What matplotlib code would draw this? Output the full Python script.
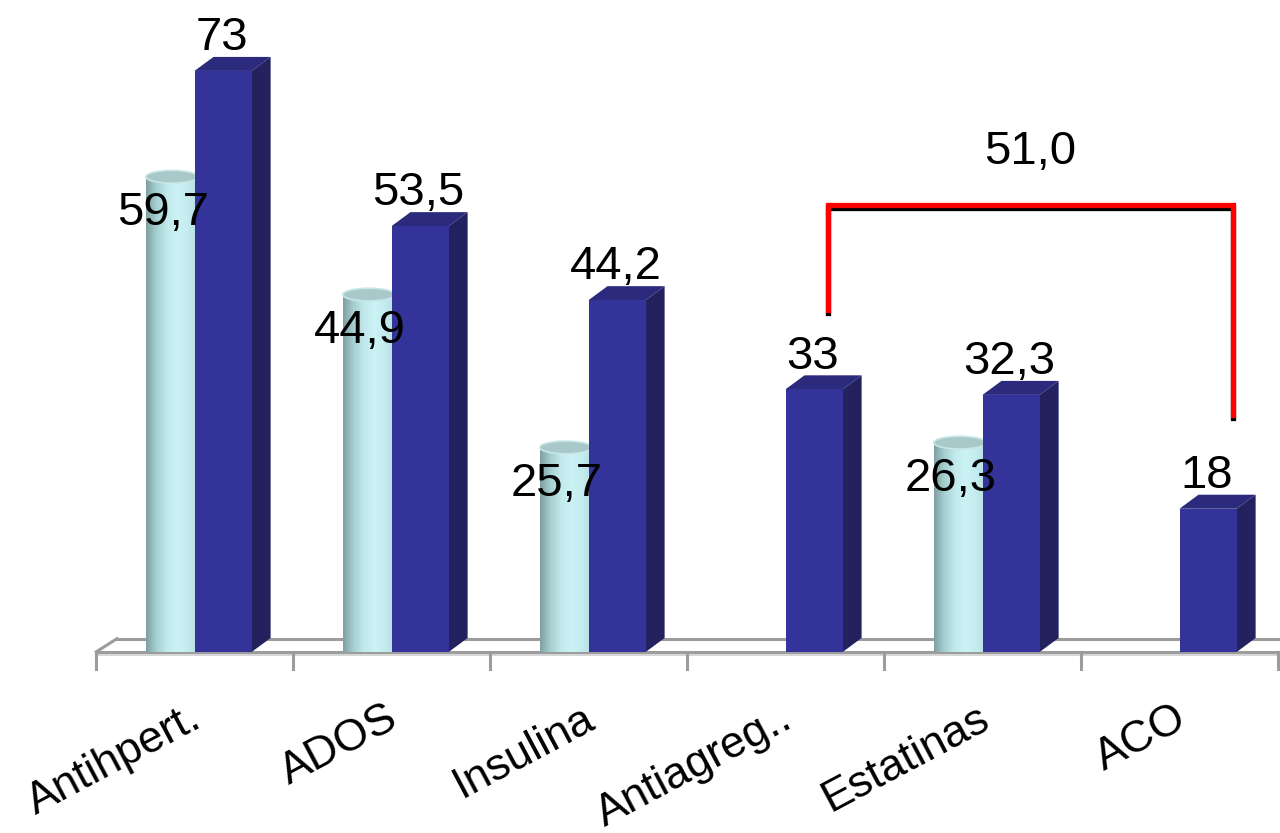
import matplotlib

matplotlib.use("Agg")
import matplotlib.pyplot as plt
import matplotlib.patheffects as pe
import numpy as np
from matplotlib.colors import LinearSegmentedColormap
from matplotlib.patches import Ellipse, Polygon, Rectangle

plt.rcParams["font.family"] = ["Liberation Sans", "DejaVu Sans"]

categories = ["Antihpert.", "ADOS", "Insulina", "Antiagreg..", "Estatinas", "ACO"]
serie_a = [59.7, 44.9, 25.7, None, 26.3, None]   # light cylinders
serie_b = [73.0, 53.5, 44.2, 33.0, 32.3, 18.0]   # dark blue boxes

# bracket between Antiagreg.. and ACO, labelled with their sum
bracket_pair = (3, 5)


def fmt(v, keep_zero=False):
    s = f"{v:.1f}".replace(".", ",")
    return s[:-2] if (s.endswith(",0") and not keep_zero) else s


W, H = 1280, 833
fig = plt.figure(figsize=(W / 100, H / 100), dpi=100)

# axes sized so that one category slot is 197 px and one unit is ~7.96 px
ax = fig.add_axes([0, 1 - 652 / H, 1, 652 / H])
px_x = 197.0
px_y = 7.96
x0 = -0.5 - 96 / px_x
ax.set_xlim(x0, x0 + W / px_x)
ax.set_ylim(0, 652 / px_y)
ax.set_axis_off()

# depth offset used for the 3d look
ddx, ddy = 19 / px_x, 14 / px_y
n = len(categories)

# floor
floor_c = "#9c9c9c"
ax.plot([-0.5, n + 0.5], [0, 0], color=floor_c, lw=2.2, zorder=1, clip_on=False)
ax.plot([-0.5, n + 0.5], [-0.35, -0.35], color="#d6d6d6", lw=1.5, zorder=1, clip_on=False)
ax.plot([-0.5 + ddx * 1.1, n + 0.5], [ddy * 0.95, ddy * 0.95], color=floor_c, lw=2.2,
        zorder=0.5, clip_on=False)
ax.plot([-0.5, -0.5 + ddx * 1.1], [0, ddy * 0.95], color=floor_c, lw=2.2, zorder=1)
for k in range(n + 1):
    ax.plot([k - 0.5, k - 0.5], [0, -2.1], color=floor_c, lw=2.2, zorder=1, clip_on=False)

# cylinders
cyl_cmap = LinearSegmentedColormap.from_list(
    "cyl", ["#7f9fa1", "#a6cfd2", "#c2eaed", "#cbf2f4", "#c4ecef", "#b3dde0"])
grad = np.linspace(0, 1, 256).reshape(1, -1)
r = 0.132
ry = 0.8
for i, v in enumerate(serie_a):
    if v is None:
        continue
    xc = i - 0.115
    body = Rectangle((xc - r, 0), 2 * r, v, transform=ax.transData)
    im = ax.imshow(grad, cmap=cyl_cmap, aspect="auto", extent=(xc - r, xc + r, 0, v),
                   zorder=2, interpolation="bilinear")
    im.set_clip_path(body)
    ax.add_patch(Ellipse((xc, v), 2 * r, 2 * ry, facecolor="#a9c8c9",
                         edgecolor="#c9e6e7", lw=1.2, zorder=2.1))

# blue boxes
front_c, side_c, top_c = "#343399", "#23225f", "#2b2a7c"
w = 0.29
for i, v in enumerate(serie_b):
    xl, xr = i, i + w
    ax.add_patch(Polygon([(xr, 0), (xr + ddx, ddy), (xr + ddx, v + ddy), (xr, v)],
                         closed=True, facecolor=side_c, edgecolor="none", zorder=3))
    ax.add_patch(Polygon([(xl, v), (xl + ddx, v + ddy), (xr + ddx, v + ddy), (xr, v)],
                         closed=True, facecolor=top_c, edgecolor="none", zorder=3))
    ax.add_patch(Rectangle((xl, 0), w, v, facecolor=front_c, edgecolor="none", zorder=3))

# value labels
lab_fs = 34
for i, v in enumerate(serie_a):
    if v is not None:
        ax.text(i - 0.16, v - 6.1, fmt(v), ha="center", va="baseline",
                fontsize=lab_fs, zorder=5)
for i, v in enumerate(serie_b):
    ax.text(i + 0.137, v + 2.6, fmt(v), ha="center", va="baseline",
            fontsize=lab_fs, zorder=5)

# category labels
for i, name in enumerate(categories):
    ax.text(i - 0.03, -5.7, name, rotation=28, rotation_mode="anchor",
            ha="right", va="top", fontsize=32, clip_on=False)

# bracket
a, b = bracket_pair
y_top = 56.2
bx = [a + 0.216, a + 0.216, b + 0.27, b + 0.27]
by = [43.0, y_top, y_top, 29.8]
ax.plot(bx, by, color="#ff0000", lw=3.8, solid_joinstyle="miter", zorder=6,
        path_effects=[pe.SimpleLineShadow(offset=(0, -2.4), shadow_color="black",
                                          alpha=1.0, rho=1.0), pe.Normal()])
ax.text((bx[1] + bx[2]) / 2, y_top + 6.6, fmt(serie_b[a] + serie_b[b], keep_zero=True),
        ha="center", va="center", fontsize=lab_fs, zorder=6)

fig.savefig("out.png", dpi=100)
